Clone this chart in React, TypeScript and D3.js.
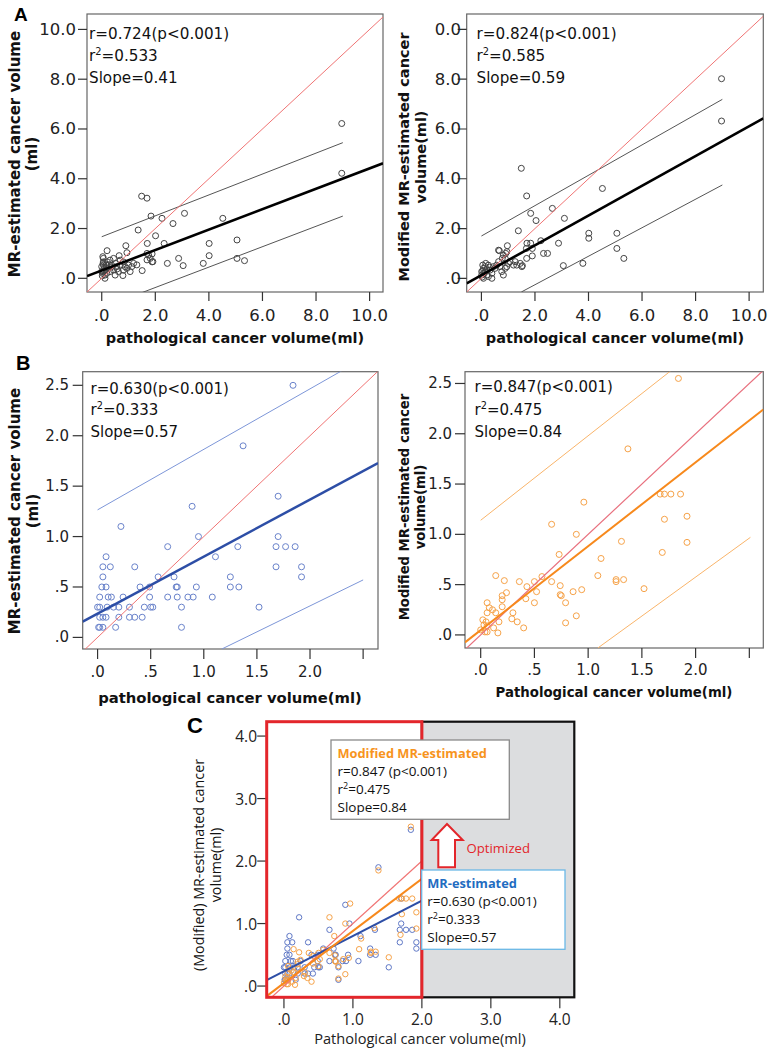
import React from 'react';
import * as d3 from 'd3';

type Pt = [number, number];

// ---------- Panel A data (pathological volume, MR-estimated volume) ----------
const aLeftPoints: Pt[] = [
  [8.96, 6.22], [8.96, 4.22], [1.49, 3.3], [1.69, 3.22], [1.84, 2.5], [2.25, 2.41], [3.09, 2.61], [2.66, 2.2],
  [4.52, 2.41], [1.36, 1.94], [2.01, 1.71], [1.7, 1.4], [2.33, 1.4], [4.01, 1.4], [5.05, 1.54], [0.2, 1.11],
  [0.9, 1.31], [0.94, 1.03], [0.65, 0.91], [1.69, 1.0], [1.88, 0.98], [4.01, 0.91], [2.87, 0.8], [5.05, 0.8],
  [5.33, 0.71], [2.45, 0.6], [3.79, 0.6], [3.04, 0.51], [1.91, 0.67], [1.69, 0.74], [1.51, 0.31], [0.79, 0.11],
  [1.31, 0.54], [0.06, 0.8], [0.06, 0.66], [0.06, 0.53], [0.09, 0.4], [0.06, 0.27], [0.12, 0.13], [0.04, 0.87],
  [0.25, 0.4], [0.31, 0.27], [0.37, 0.53], [0.44, 0.33], [0.5, 0.13], [0.56, 0.47], [0.62, 0.27], [0.69, 0.53],
  [0.81, 0.33], [0.87, 0.47], [0.94, 0.4], [1.0, 0.53], [1.06, 0.27], [1.12, 0.47], [1.19, 0.6], [0.81, 0.66],
  [0.31, 0.73], [0.69, 0.73], [0.44, 0.8], [0.12, 0.0], [0.19, 0.2], [0.0, 0.47], [0.0, 0.27], [0.16, 0.53],
  [0.21, 0.66], [1.81, 0.8], [1.88, 0.66], [1.75, 0.93], [0.03, 0.2], [0.1, 0.3], [0.15, 0.35], [0.02, 0.1],
  [0.05, 0.6], [0.35, 0.45], [0.28, 0.55], [0.52, 0.6], [0.58, 0.38],
];
const aRightPoints: Pt[] = [
  [8.97, 8.02], [8.97, 6.32], [1.49, 4.42], [1.69, 3.31], [4.52, 3.61], [1.84, 2.61], [2.65, 2.81], [2.04, 2.32],
  [3.1, 2.41], [1.38, 1.91], [4.01, 1.81], [4.01, 1.61], [5.06, 1.81], [5.06, 1.2], [5.32, 0.8], [3.79, 0.6],
  [3.06, 0.51], [2.88, 1.41], [2.32, 1.0], [2.47, 1.0], [2.22, 1.51], [1.7, 1.41], [1.84, 1.41], [1.68, 1.2],
  [1.9, 1.2], [1.9, 0.9], [1.69, 0.8], [1.53, 0.51], [0.67, 1.11], [0.97, 1.31], [0.91, 1.0], [0.78, 0.8],
  [0.16, 0.6], [0.076, 0.4], [0.14, 0.27], [0.2, 0.13], [0.076, 0.0], [0.14, 0.47], [0.26, 0.53], [0.32, 0.33],
  [0.39, 0.2], [0.45, 0.47], [0.51, 0.4], [0.57, 0.53], [0.64, 0.67], [0.7, 0.47], [0.76, 0.27], [0.82, 0.13],
  [0.89, 0.4], [0.95, 0.47], [1.01, 0.6], [1.07, 0.67], [1.2, 0.53], [1.26, 0.67], [1.32, 0.53], [1.45, 0.6],
  [1.51, 0.47], [0.64, 1.13], [0.82, 0.93], [0.95, 1.07], [0.89, 0.8], [0.39, 0.0], [0.26, 0.07], [0.01, 0.13],
  [0.01, 0.27], [0.05, 0.53], [0.03, 0.05], [0.1, 0.2], [0.2, 0.35], [0.3, 0.45], [0.05, 0.3],
];

// ---------- Panel B data (<2 ml subset) ----------
const bLeftPoints: Pt[] = [
  [1.84, 2.5], [1.37, 1.9], [0.89, 1.3], [1.7, 1.4], [0.95, 1.0], [0.22, 1.1], [0.66, 0.9], [1.7, 1.0],
  [1.68, 0.9], [1.77, 0.9], [1.86, 0.9], [1.32, 0.9], [1.11, 0.8], [0.08, 0.8], [0.05, 0.7], [0.12, 0.7],
  [0.35, 0.7], [1.68, 0.7], [1.92, 0.7], [1.92, 0.6], [0.05, 0.6], [0.57, 0.6], [0.72, 0.6], [1.25, 0.6],
  [1.25, 0.5], [1.33, 0.5], [0.04, 0.5], [0.08, 0.5], [0.4, 0.5], [0.49, 0.5], [0.74, 0.5], [0.75, 0.5],
  [0.93, 0.5], [0.02, 0.4], [0.1, 0.4], [0.13, 0.4], [0.24, 0.4], [0.49, 0.4], [0.66, 0.4], [0.75, 0.4],
  [0.85, 0.4], [0.9, 0.4], [1.08, 0.4], [0.0, 0.3], [0.02, 0.3], [0.09, 0.3], [0.15, 0.3], [0.2, 0.3],
  [0.3, 0.3], [0.44, 0.3], [0.5, 0.3], [0.52, 0.3], [0.79, 0.3], [1.52, 0.3], [0.02, 0.2], [0.05, 0.2],
  [0.08, 0.2], [0.2, 0.2], [0.3, 0.2], [0.35, 0.2], [0.42, 0.2], [0.01, 0.1], [0.02, 0.1], [0.05, 0.1],
  [0.17, 0.1], [0.79, 0.1],
];
const bRightPoints: Pt[] = [
  [1.84, 2.55], [1.37, 1.85], [0.96, 1.32], [0.66, 1.1], [0.89, 1.0], [1.67, 1.4], [1.71, 1.4], [1.77, 1.4],
  [1.86, 1.4], [1.92, 1.18], [1.71, 1.15], [1.92, 0.92], [1.31, 0.93], [1.69, 0.82], [0.73, 0.8], [1.12, 0.76],
  [1.09, 0.59], [1.26, 0.55], [1.26, 0.53], [1.33, 0.55], [1.52, 0.46], [0.94, 0.45], [0.86, 0.43], [0.74, 0.49],
  [0.74, 0.4], [0.75, 0.39], [0.79, 0.32], [0.79, 0.12], [0.89, 0.19], [0.57, 0.58], [0.66, 0.53], [0.14, 0.59],
  [0.22, 0.54], [0.36, 0.53], [0.5, 0.53], [0.43, 0.48], [0.52, 0.43], [0.5, 0.32], [0.42, 0.36], [0.24, 0.42],
  [0.2, 0.39], [0.2, 0.35], [0.2, 0.28], [0.3, 0.22], [0.29, 0.16], [0.34, 0.13], [0.4, 0.07], [0.06, 0.32],
  [0.08, 0.27], [0.11, 0.25], [0.06, 0.22], [0.14, 0.22], [0.02, 0.15], [0.05, 0.13], [0.03, 0.1], [0.06, 0.09],
  [0.0, 0.05], [0.04, 0.03], [0.06, 0.03], [0.16, 0.02], [0.17, 0.13], [0.12, 0.07],
];

// ---------- fitted lines: [intercept, slope] and prediction-interval endpoints ----------
const aLeftFit: Pt = [0.316, 0.41];
const aLeftUpperPI: Pt[] = [[0, 1.67], [9, 5.45]];
const aLeftLowerPI: Pt[] = [[0, -1.19], [9, 2.5]];
const aRightFit: Pt = [0.13, 0.598];
const aRightUpperPI: Pt[] = [[0, 1.7], [9, 7.19]];
const aRightLowerPI: Pt[] = [[1.49, -0.55], [9, 3.75]];
const bLeftFit: Pt = [0.235, 0.566];
const bLeftUpperPI: Pt[] = [[0, 1.265], [2.5, 2.765]];
const bLeftLowerPI: Pt[] = [[1.17, -0.115], [2.5, 0.57]];
const bRightFit: Pt = [0.048, 0.834];
const bRightUpperPI: Pt[] = [[0, 1.14], [2.0, 2.82]];
const bRightLowerPI: Pt[] = [[1.09, -0.13], [2.51, 0.97]];
const identityFit: Pt = [0, 1];

// ---------- ticks ----------
const aTicks = [0, 2, 4, 6, 8, 10];
const aTickLabels = ['.0', '2.0', '4.0', '6.0', '8.0', '10.0'];
const bXTicks = [0, 0.5, 1, 1.5, 2, 2.5];
const bXTickLabels = ['.0', '.5', '1.0', '1.5', '2.0', ''];
const bYTicks = [0, 0.5, 1, 1.5, 2, 2.5];
const bYTickLabels = ['.0', '.5', '1.0', '1.5', '2.0', '2.5'];
const cTicks = [0, 1, 2, 3, 4];
const cTickLabels = ['.0', '1.0', '2.0', '3.0', '4.0'];

// ---------- stats ----------
const aLeftStats = ['0.724', '0.533', '0.41'];
const aRightStats = ['0.824', '0.585', '0.59'];
const bLeftStats = ['0.630', '0.333', '0.57'];
const bRightStats = ['0.847', '0.475', '0.84'];

const RED = '#f07474';
const BLUE_PT = '#6a83cb';
const BLUE_LINE = '#2d4ea6';
const BLUE_PI = '#7d96d8';
const OR_PT = '#f6a248';
const OR_LINE = '#f7891c';
const OR_PI = '#f9b46a';
const DV = '"DejaVu Sans", Verdana, sans-serif';
const OS = '"Open Sans", "Noto Sans", sans-serif';

type Box = { x0: number; y0: number; x1: number; y1: number };
type LineSpec = { p: Pt[]; color: string; w: number };

function fitLine(fit: Pt, xs: [number, number], color: string, w: number): LineSpec {
  return { p: [[xs[0], fit[0] + fit[1] * xs[0]], [xs[1], fit[0] + fit[1] * xs[1]]], color, w };
}

interface PanelProps {
  id: string;
  box: Box;
  xDomain: [number, number];
  yDomain: [number, number];
  xTicks: number[];
  xLabels: string[];
  yTicks: number[];
  yLabels: string[];
  font: string;
  tickSize: number;
  xLabelY: number;
  tickLen: number;
  yLabelEnd: number;
  series: { pts: Pt[]; color: string; r: number }[];
  lines: LineSpec[];
  frameColor?: string;
  yLabelClipX?: number;
}

function Panel(props: PanelProps) {
  const { id, box, xDomain, yDomain, font, tickSize } = props;
  const x = d3.scaleLinear().domain(xDomain).range([box.x0, box.x1]);
  const y = d3.scaleLinear().domain(yDomain).range([box.y1, box.y0]);
  return (
    <g>
      <defs>
        <clipPath id={id}>
          <rect x={box.x0} y={box.y0} width={box.x1 - box.x0} height={box.y1 - box.y0} />
        </clipPath>
        {props.yLabelClipX !== undefined && (
          <clipPath id={id + '-yl'}>
            <rect x={props.yLabelClipX} y={box.y0 - 30} width={400} height={box.y1 - box.y0 + 60} />
          </clipPath>
        )}
      </defs>
      {props.frameColor && (
        <rect x={box.x0} y={box.y0} width={box.x1 - box.x0} height={box.y1 - box.y0} fill="#fff" stroke={props.frameColor} strokeWidth={1.2} />
      )}
      <g clipPath={`url(#${id})`}>
        {props.series.map((s, si) =>
          s.pts.map((p, i) => (
            <circle key={si + '-' + i} cx={x(p[0])} cy={y(p[1])} r={s.r} fill="none" stroke={s.color} strokeWidth={1} />
          ))
        )}
        {props.lines.map((l, i) => (
          <line key={i} x1={x(l.p[0][0])} y1={y(l.p[0][1])} x2={x(l.p[1][0])} y2={y(l.p[1][1])} stroke={l.color} strokeWidth={l.w} />
        ))}
      </g>
      {props.xTicks.map((t, i) => (
        <g key={'xt' + i}>
          <line x1={x(t)} x2={x(t)} y1={box.y1} y2={box.y1 + props.tickLen} stroke="#333" strokeWidth={1.2} />
          <text x={x(t)} y={props.xLabelY} textAnchor="middle" dominantBaseline="central" fontFamily={font} fontSize={tickSize} fill="#222">
            {props.xLabels[i]}
          </text>
        </g>
      ))}
      <g clipPath={props.yLabelClipX !== undefined ? `url(#${id}-yl)` : undefined}>
        {props.yTicks.map((t, i) => (
          <g key={'yt' + i}>
            <line x1={box.x0 - props.tickLen} x2={box.x0} y1={y(t)} y2={y(t)} stroke="#333" strokeWidth={1.2} />
            <text x={props.yLabelEnd} y={y(t)} textAnchor="end" dominantBaseline="central" fontFamily={font} fontSize={tickSize} fill="#222">
              {props.yLabels[i]}
            </text>
          </g>
        ))}
      </g>
    </g>
  );
}

function Stats({ x, y, vals, size, gap }: { x: number; y: number; vals: string[]; size: number; gap: number }) {
  return (
    <g fontFamily={DV} fontSize={size} fill="#111">
      <text x={x} y={y}>{`r=${vals[0]}(p<0.001)`}</text>
      <text x={x} y={y + gap}>
        r<tspan dy={-6} fontSize={size * 0.65}>2</tspan>
        <tspan dy={6}>{`=${vals[1]}`}</tspan>
      </text>
      <text x={x} y={y + 2 * gap}>{`Slope=${vals[2]}`}</text>
    </g>
  );
}

function YTitle({ x1, x2, cy, l1, l2, size, font, weight }: { x1: number; x2: number; cy: number; l1: string; l2: string; size: number; font: string; weight: string | number }) {
  return (
    <g fontFamily={font} fontSize={size} fontWeight={weight} fill="#111" textAnchor="middle">
      <text transform={`translate(${x1},${cy}) rotate(-90)`} dominantBaseline="central">{l1}</text>
      <text transform={`translate(${x2},${cy}) rotate(-90)`} dominantBaseline="central">{l2}</text>
    </g>
  );
}

export default function App() {
  const aLBox: Box = { x0: 87, y0: 14, x1: 383, y1: 292 };
  const aRBox: Box = { x0: 466.7, y0: 14, x1: 763.3, y1: 292 };
  const bLBox: Box = { x0: 82.7, y0: 371.7, x1: 378, y1: 649 };
  const bRBox: Box = { x0: 465, y0: 371.7, x1: 763.3, y1: 648 };
  const cBox: Box = { x0: 266.7, y0: 721.7, x1: 574.3, y1: 997.3 };

  const aLX: [number, number] = [-0.55, 10.5];
  const aLY: [number, number] = [-0.55, 10.62];
  const aRX: [number, number] = [-0.55, 10.53];
  const aRY: [number, number] = [-0.55, 10.62];
  const bLX: [number, number] = [-0.14, 2.64];
  const bLY: [number, number] = [-0.115, 2.635];
  const bRX: [number, number] = [-0.146, 2.63];
  const bRY: [number, number] = [-0.13, 2.617];
  const cX: [number, number] = [-0.25, 4.21];
  const cY: [number, number] = [-0.18, 4.23];

  const cx = d3.scaleLinear().domain(cX).range([cBox.x0, cBox.x1]);
  const split = cx(2.0);

  return (
    <svg width={768} height={1050} style={{ position: 'absolute', left: 0, top: 0, background: '#fff' }}>
      <rect width={768} height={1050} fill="#fff" />
      {/* ---------------- Panel A ---------------- */}
      <text x={14} y={21} fontFamily="Liberation Sans, Arial, sans-serif" fontWeight="bold" fontSize={19}>A</text>
      <Panel
        id="aL" box={aLBox} xDomain={aLX} yDomain={aLY}
        xTicks={aTicks} xLabels={aTickLabels} yTicks={aTicks} yLabels={aTickLabels}
        font={DV} tickSize={16.5} xLabelY={315} tickLen={9} yLabelEnd={76}
        frameColor="#666"
        series={[{ pts: aLeftPoints, color: '#444', r: 3 }]}
        lines={[
          { p: aLeftUpperPI, color: '#555', w: 1 },
          { p: aLeftLowerPI, color: '#555', w: 1 },
          fitLine(identityFit, aLX, RED, 1),
          fitLine(aLeftFit, aLX, '#000', 2.6),
        ]}
      />
      <Stats x={89} y={38.5} vals={aLeftStats} size={15.2} gap={22} />
      <YTitle x1={15} x2={31.5} cy={154} l1="MR-estimated cancer volume" l2="(ml)" size={15} font={DV} weight="bold" />
      <text x={235} y={343} textAnchor="middle" fontFamily={DV} fontWeight="bold" fontSize={14.5} fill="#111">pathological cancer volume(ml)</text>

      <Panel
        id="aR" box={aRBox} xDomain={aRX} yDomain={aRY}
        xTicks={aTicks} xLabels={aTickLabels} yTicks={aTicks} yLabels={aTickLabels}
        font={DV} tickSize={16.5} xLabelY={315} tickLen={9} yLabelEnd={461}
        frameColor="#666" yLabelClipX={434.5}
        series={[{ pts: aRightPoints, color: '#444', r: 3 }]}
        lines={[
          { p: aRightUpperPI, color: '#555', w: 1 },
          { p: aRightLowerPI, color: '#555', w: 1 },
          fitLine(identityFit, aRX, RED, 1),
          fitLine(aRightFit, aRX, '#000', 2.6),
        ]}
      />
      <Stats x={476.5} y={38.5} vals={aRightStats} size={15.2} gap={22} />
      <YTitle x1={404} x2={421.3} cy={157} l1="Modified MR-estimated cancer" l2="volume(ml)" size={14.5} font={DV} weight="bold" />
      <text x={615} y={343} textAnchor="middle" fontFamily={DV} fontWeight="bold" fontSize={14.5} fill="#111">pathological cancer volume(ml)</text>

      {/* ---------------- Panel B ---------------- */}
      <text x={16} y={370} fontFamily="Liberation Sans, Arial, sans-serif" fontWeight="bold" fontSize={20}>B</text>
      <Panel
        id="bL" box={bLBox} xDomain={bLX} yDomain={bLY}
        xTicks={bXTicks} xLabels={bXTickLabels} yTicks={bYTicks} yLabels={bYTickLabels}
        font={DV} tickSize={15} xLabelY={672} tickLen={10} yLabelEnd={69}
        frameColor="#666"
        series={[{ pts: bLeftPoints, color: BLUE_PT, r: 3 }]}
        lines={[
          { p: bLeftUpperPI, color: BLUE_PI, w: 1 },
          { p: bLeftLowerPI, color: BLUE_PI, w: 1 },
          fitLine(identityFit, bLX, RED, 1),
          fitLine(bLeftFit, bLX, BLUE_LINE, 2.5),
        ]}
      />
      <Stats x={90.5} y={393.5} vals={bLeftStats} size={15} gap={21.7} />
      <YTitle x1={15} x2={33} cy={511} l1="MR-estimated cancer volume" l2="(ml)" size={15} font={DV} weight="bold" />
      <text x={230} y={703} textAnchor="middle" fontFamily={DV} fontWeight="bold" fontSize={14.8} fill="#111">pathological cancer volume(ml)</text>

      <Panel
        id="bR" box={bRBox} xDomain={bRX} yDomain={bRY}
        xTicks={bXTicks} xLabels={bXTickLabels} yTicks={bYTicks} yLabels={bYTickLabels}
        font={DV} tickSize={15} xLabelY={669.5} tickLen={10} yLabelEnd={452}
        frameColor="#666"
        series={[{ pts: bRightPoints, color: OR_PT, r: 3 }]}
        lines={[
          { p: bRightUpperPI, color: OR_PI, w: 1 },
          { p: bRightLowerPI, color: OR_PI, w: 1 },
          fitLine(identityFit, bRX, '#e8707e', 1.2),
          fitLine(bRightFit, bRX, OR_LINE, 2),
        ]}
      />
      <Stats x={474.5} y={392} vals={bRightStats} size={15} gap={22.5} />
      <YTitle x1={404} x2={420.7} cy={507} l1="Modified MR-estimated cancer" l2="volume(ml)" size={13.2} font={DV} weight="bold" />
      <text x={614} y={697} textAnchor="middle" fontFamily={DV} fontWeight="bold" fontSize={13.3} fill="#111">Pathological cancer volume(ml)</text>

      {/* ---------------- Panel C ---------------- */}
      <text x={187} y={733} fontFamily="Liberation Sans, Arial, sans-serif" fontWeight="bold" fontSize={22}>C</text>
      <rect x={split} y={cBox.y0} width={cBox.x1 - split} height={cBox.y1 - cBox.y0} fill="#dcdddf" />
      <Panel
        id="cP" box={{ x0: cBox.x0, y0: cBox.y0, x1: split, y1: cBox.y1 }} xDomain={[cX[0], 2.0]} yDomain={cY}
        xTicks={[]} xLabels={[]} yTicks={cTicks} yLabels={cTickLabels}
        font={OS} tickSize={15.5} xLabelY={1018} tickLen={9.5} yLabelEnd={257}
        series={[
          { pts: bLeftPoints, color: '#5f78c6', r: 2.7 },
          { pts: bRightPoints, color: OR_PT, r: 2.7 },
        ]}
        lines={[
          fitLine(identityFit, [cX[0], 2.0], RED, 1.2),
          fitLine(bLeftFit, [cX[0], 2.0], BLUE_LINE, 2),
          fitLine(bRightFit, [cX[0], 2.0], OR_LINE, 2),
        ]}
      />
      {cTicks.map((t, i) => (
        <g key={'cx' + i}>
          <line x1={cx(t)} x2={cx(t)} y1={cBox.y1} y2={cBox.y1 + 11} stroke="#333" strokeWidth={1.2} />
          <text x={cx(t)} y={1018.5} textAnchor="middle" dominantBaseline="central" fontFamily={OS} fontSize={15.5} fill="#222">{cTickLabels[i]}</text>
        </g>
      ))}
      <rect x={split} y={cBox.y0} width={cBox.x1 - split} height={cBox.y1 - cBox.y0} fill="none" stroke="#111" strokeWidth={2.2} />
      <rect x={cBox.x0} y={cBox.y0} width={split - cBox.x0} height={cBox.y1 - cBox.y0} fill="none" stroke="#e3262b" strokeWidth={3} />
      <YTitle x1={198.5} x2={215} cy={865} l1="(Modified) MR-estimated cancer" l2="volume(ml)" size={14.3} font={OS} weight="normal" />
      <text x={420} y={1044} textAnchor="middle" fontFamily={OS} fontSize={14.6} fill="#222">Pathological cancer volume(ml)</text>

      {/* annotation: modified */}
      <rect x={331} y={740} width={178.3} height={79.3} fill="#fff" stroke="#8a8a8a" strokeWidth={1.3} />
      <g fontFamily={OS} fontSize={13.5} fill="#111">
        <text x={337.5} y={757.5} fontWeight="bold" fontSize={12.8} fill="#f7941d">Modified MR-estimated</text>
        <text x={337.5} y={776}>r=0.847 (p&lt;0.001)</text>
        <text x={337.5} y={794}>r<tspan dy={-5.5} fontSize={9}>2</tspan><tspan dy={5.5}>=0.475</tspan></text>
        <text x={337.5} y={812}>Slope=0.84</text>
      </g>
      {/* annotation: MR-estimated */}
      <rect x={421.7} y={870} width={143.3} height={79.3} fill="#fff" stroke="#6bb8e6" strokeWidth={1.3} />
      <g fontFamily={OS} fontSize={13.5} fill="#111">
        <text x={427.3} y={887.5} fontWeight="bold" fontSize={12.8} fill="#1f6cc1">MR-estimated</text>
        <text x={427.3} y={906}>r=0.630 (p&lt;0.001)</text>
        <text x={427.3} y={924}>r<tspan dy={-5.5} fontSize={9}>2</tspan><tspan dy={5.5}>=0.333</tspan></text>
        <text x={427.3} y={942}>Slope=0.57</text>
      </g>
      {/* arrow */}
      <path d="M447,824 L462.7,840 L455,840 L455,867.3 L438.3,867.3 L438.3,840 L431.7,840 Z" fill="#fff" stroke="#e3262b" strokeWidth={2} strokeLinejoin="miter" />
      <text x={466.5} y={852.5} fontFamily={OS} fontSize={13.2} fill="#e3262b">Optimized</text>
    </svg>
  );
}
